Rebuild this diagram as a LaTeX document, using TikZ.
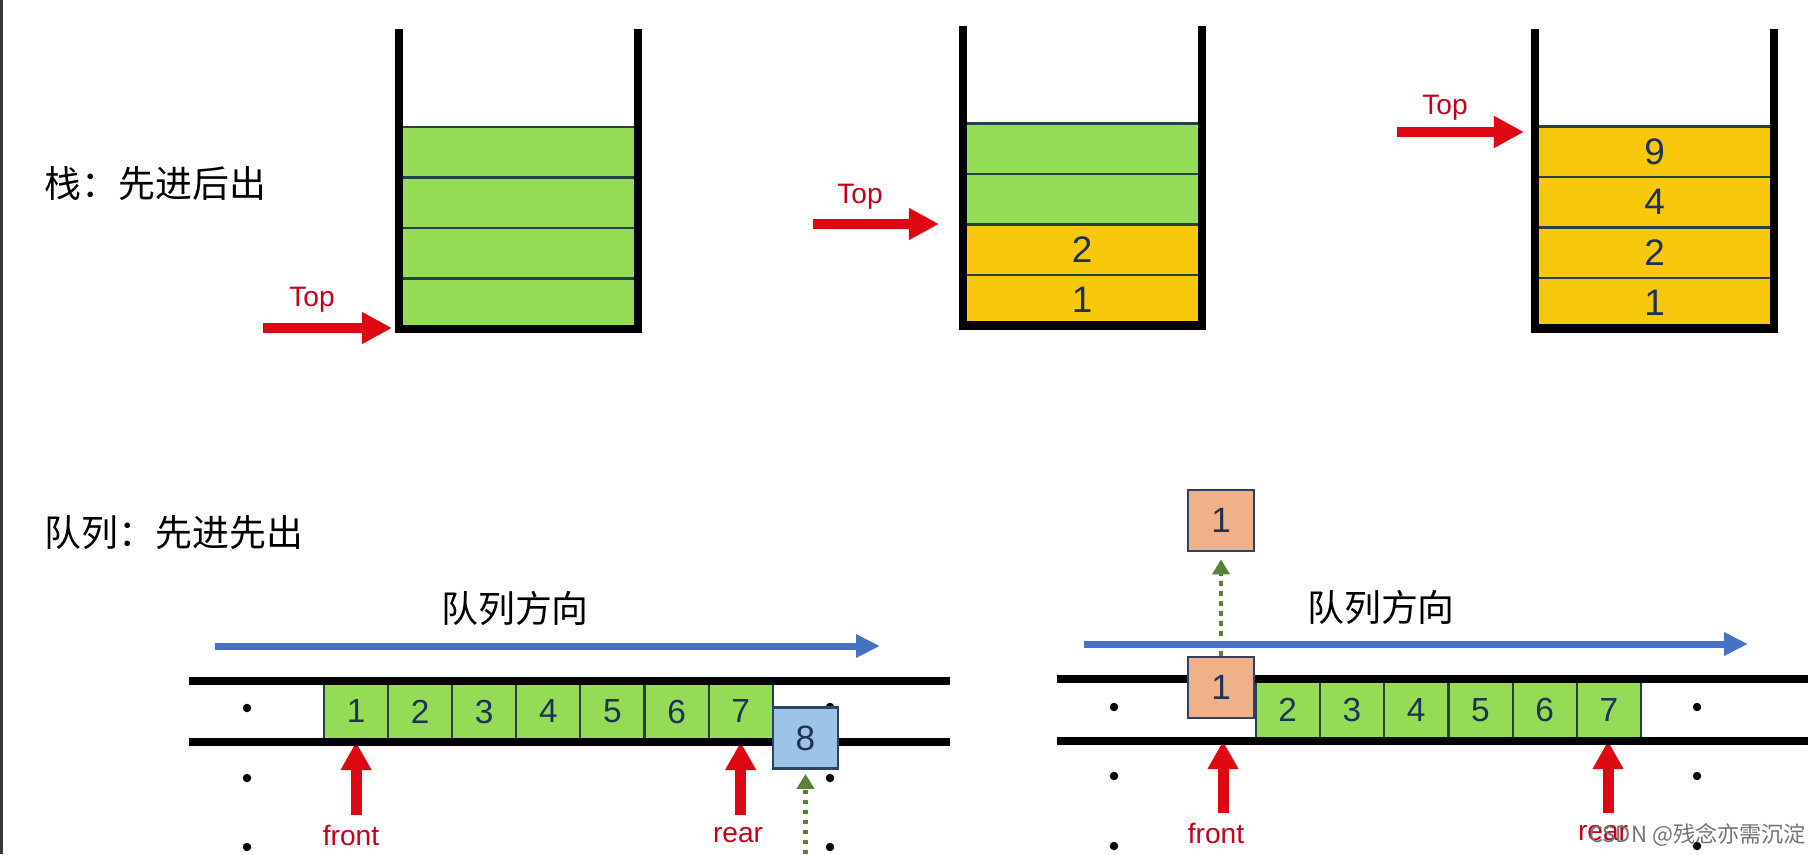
\documentclass[tikz,border=0pt]{standalone}
\usepackage{fontspec}
\setmainfont{Liberation Sans}
\newfontfamily\cjk{Noto Sans CJK SC}
\usetikzlibrary{arrows.meta}

\definecolor{cellgreen}{RGB}{148,220,85}
\definecolor{cellyellow}{RGB}{247,200,12}
\definecolor{cellline}{RGB}{36,64,72}
\definecolor{numblue}{RGB}{30,50,88}
\definecolor{ptrred}{RGB}{222,8,18}
\definecolor{lblred}{RGB}{196,0,24}
\definecolor{dirblue}{RGB}{68,114,196}
\definecolor{boxblue}{RGB}{157,195,230}
\definecolor{boxsalmon}{RGB}{240,176,136}
\definecolor{boxline}{RGB}{44,68,104}
\definecolor{movegreen}{RGB}{88,128,56}

\tikzset{
  stackwall/.style={line width=0.08cm},
  scell/.style={draw=cellline, line width=0.6pt, minimum width=2.39cm, minimum height=0.505cm, inner sep=0pt, text=numblue, font=\fontsize{10.5}{12}\selectfont},
  qcell/.style={draw=cellline, line width=0.6pt, fill=cellgreen, minimum width=0.641cm, minimum height=0.61cm, inner sep=0pt, text=numblue, font=\fontsize{9.5}{11}\selectfont},
  qbox/.style={draw=boxline, line width=0.8pt, minimum width=0.65cm, minimum height=0.61cm, inner sep=0pt, text=numblue, font=\fontsize{10}{12}\selectfont},
  rail/.style={line width=0.08cm},
  toparrow/.style={draw=ptrred, line width=0.1cm, -{Triangle[length=0.3cm,width=0.3cm]}},
  ptrarrow/.style={draw=ptrred, line width=0.11cm, -{Triangle[length=0.28cm,width=0.29cm]}},
  dirarrow/.style={draw=dirblue, line width=0.07cm, -{Triangle[length=0.24cm,width=0.22cm]}},
  movearrow/.style={draw=movegreen, line width=0.045cm, dash pattern=on 0.045cm off 0.055cm, -{Triangle[length=0.15cm,width=0.17cm]}},
  ptrlbl/.style={text=lblred, font=\fontsize{8}{10}\selectfont, inner sep=0pt},
  titlelbl/.style={font=\cjk\fontsize{10.5}{12}\selectfont, anchor=west, inner sep=0pt},
  dirlbl/.style={font=\cjk\fontsize{10.5}{12}\selectfont, inner sep=0pt},
  slot/.style={circle, fill=black, inner sep=0pt, minimum size=0.085cm},
}

\begin{document}
\begin{tikzpicture}

        \useasboundingbox (0,0) rectangle (18.08,8.54);
        \fill[black!78] (0,0) rectangle (0.03,8.54);

        %Titles
        \node[titlelbl] (stacktitle) at (0.44,6.70) {栈：先进后出};
        \node[titlelbl] (queuetitle) at (0.44,3.21) {队列：先进先出};

        %Stack 1 (empty)
        \node[scell, fill=cellgreen] (s1c1) at (5.18,5.5025) {};
        \node[scell, fill=cellgreen] (s1c2) at (5.18,6.0075) {};
        \node[scell, fill=cellgreen] (s1c3) at (5.18,6.5125) {};
        \node[scell, fill=cellgreen] (s1c4) at (5.18,7.0175) {};
        \draw[stackwall] (3.985,8.25) -- (3.985,5.25) -- (6.375,5.25) -- (6.375,8.25);

        %Stack 2 (1, 2 pushed)
        \node[scell, fill=cellyellow] (s2c1) at (10.82,5.5375) {1};
        \node[scell, fill=cellyellow] (s2c2) at (10.82,6.0425) {2};
        \node[scell, fill=cellgreen] (s2c3) at (10.82,6.5475) {};
        \node[scell, fill=cellgreen] (s2c4) at (10.82,7.0525) {};
        \draw[stackwall] (9.625,8.28) -- (9.625,5.285) -- (12.015,5.285) -- (12.015,8.28);

        %Stack 3 (full)
        \node[scell, fill=cellyellow] (s3c1) at (16.545,5.5075) {1};
        \node[scell, fill=cellyellow] (s3c2) at (16.545,6.0125) {2};
        \node[scell, fill=cellyellow] (s3c3) at (16.545,6.5175) {4};
        \node[scell, fill=cellyellow] (s3c4) at (16.545,7.0225) {9};
        \draw[stackwall] (15.35,8.25) -- (15.35,5.255) -- (17.74,5.255) -- (17.74,8.25);

        %Top pointers
        \coordinate (t1) at (2.63,5.26);
        \coordinate (t2) at (8.13,6.30);
        \coordinate (t3) at (13.97,7.22);
        \draw[toparrow, shorten >=0.055cm] (t1) -- (t1 -| s1c1.west);
        \draw[toparrow, shorten >=0.225cm] (t2) -- (t2 -| s2c2.west);
        \draw[toparrow, shorten >=0.10cm] (t3) -- (t3 -| s3c4.west);
        \node[ptrlbl] (top1) at (3.12,5.54) {Top};
        \node[ptrlbl] (top2) at (8.60,6.57) {Top};
        \node[ptrlbl] (top3) at (14.45,7.46) {Top};

        %Queue 1 (enqueue 8)
        \coordinate (q1dirL) at (2.15,2.08);
        \coordinate (q1dirR) at (8.80,2.08);
        \draw[dirarrow] (q1dirL) -- (q1dirR);
        \node[dirlbl] (q1dir) at (5.15,2.46) {队列方向};

        \node[slot] (q1d1) at (2.47,1.46) {};
        \node[slot] (q1d2) at (2.47,0.76) {};
        \node[slot] (q1d3) at (2.47,0.07) {};
        \node[slot] (q1d4) at (8.30,1.47) {};
        \node[slot] (q1d5) at (8.30,0.76) {};
        \node[slot] (q1d6) at (8.30,0.07) {};

        \node[qcell] (q1c1) at (3.5605,1.425) {1};
        \node[qcell] (q1c2) at (4.2015,1.425) {2};
        \node[qcell] (q1c3) at (4.8425,1.425) {3};
        \node[qcell] (q1c4) at (5.4835,1.425) {4};
        \node[qcell] (q1c5) at (6.1245,1.425) {5};
        \node[qcell] (q1c6) at (6.7655,1.425) {6};
        \node[qcell] (q1c7) at (7.4065,1.425) {7};

        \coordinate (q1railL) at (1.89,1.12);
        \coordinate (f1) at (3.5605,0.39);
        \coordinate (r1) at (7.4065,0.39);
        \draw[ptrarrow] (f1) -- (f1 |- q1railL);
        \draw[ptrarrow] (r1) -- (r1 |- q1railL);

        \draw[rail] (1.89,1.73) -- (9.50,1.73);
        \draw[rail] (q1railL) -- (9.50,1.12);

        \node[qbox, fill=boxblue] (q1new) at (8.055,1.16) {8};
        \coordinate (q1in) at (8.055,0);
        \draw[movearrow, shorten >=0.04cm] (q1in) -- (q1new.south);

        \node[ptrlbl] (front1) at (3.51,0.19) {front};
        \node[ptrlbl] (rear1) at (7.38,0.19) {rear};

        %Queue 2 (dequeue 1)
        \node[slot] (q2d1) at (11.14,1.47) {};
        \node[slot] (q2d2) at (11.14,0.78) {};
        \node[slot] (q2d3) at (11.14,0.08) {};
        \node[slot] (q2d4) at (16.97,1.47) {};
        \node[slot] (q2d5) at (16.97,0.78) {};
        \node[slot] (q2d6) at (16.97,0.08) {};

        \node[qcell, minimum height=0.62cm] (q2c2) at (12.8775,1.44) {2};
        \node[qcell, minimum height=0.62cm] (q2c3) at (13.52,1.44) {3};
        \node[qcell, minimum height=0.62cm] (q2c4) at (14.1625,1.44) {4};
        \node[qcell, minimum height=0.62cm] (q2c5) at (14.805,1.44) {5};
        \node[qcell, minimum height=0.62cm] (q2c6) at (15.4475,1.44) {6};
        \node[qcell, minimum height=0.62cm] (q2c7) at (16.09,1.44) {7};

        \coordinate (q2railL) at (10.57,1.13);
        \coordinate (f2) at (12.23,0.41);
        \coordinate (r2) at (16.08,0.41);
        \draw[ptrarrow] (f2) -- (f2 |- q2railL);
        \draw[ptrarrow] (r2) -- (r2 |- q2railL);

        \draw[rail] (10.57,1.75) -- (18.08,1.75);
        \draw[rail] (q2railL) -- (18.08,1.13);

        \node[qbox, fill=boxsalmon, minimum width=0.66cm] (q2out) at (12.21,1.665) {1};
        \node[qbox, fill=boxsalmon, minimum width=0.66cm] (q2deq) at (12.21,3.335) {1};
        \draw[movearrow, shorten >=0.07cm] (q2out.north) -- (q2deq.south);

        \coordinate (q2dirL) at (10.84,2.10);
        \coordinate (q2dirR) at (17.48,2.10);
        \draw[dirarrow] (q2dirL) -- (q2dirR);
        \node[dirlbl] (q2dir) at (13.81,2.47) {队列方向};

        \node[ptrlbl] (front2) at (12.16,0.21) {front};
        \node[ptrlbl] (rear2) at (16.03,0.21) {rear};

        %Watermark
        \node[text=black!55, font=\cjk\fontsize{6.3}{7}\selectfont, inner sep=0pt] (mark) at (16.975,0.19) {CSDN @残念亦需沉淀};

\end{tikzpicture}
\end{document}
